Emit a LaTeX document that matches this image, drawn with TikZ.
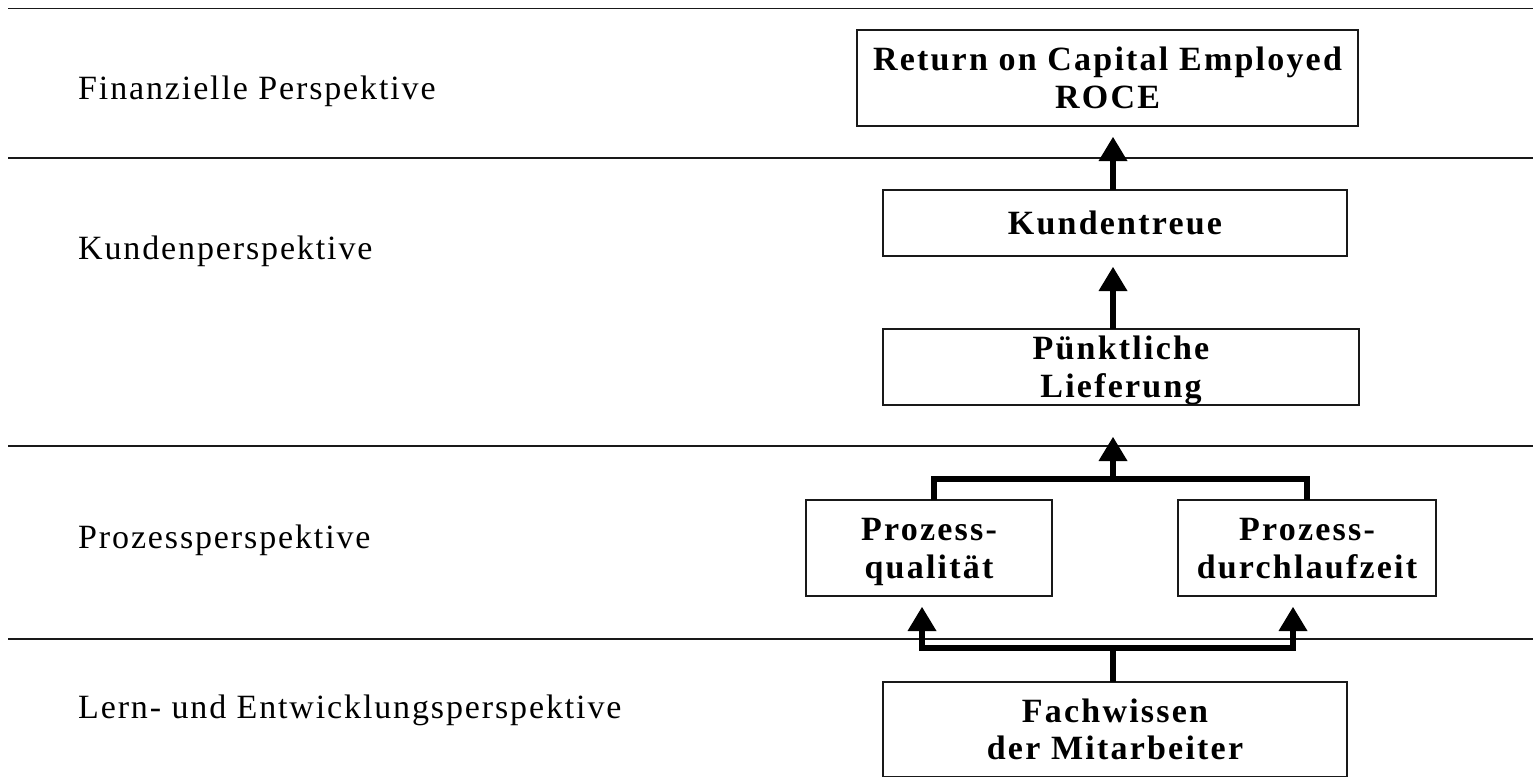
\documentclass[tikz,border=0pt]{standalone}
\usepackage{fontspec}
\setmainfont{Liberation Serif}[LetterSpace=5.5, BoldFeatures={LetterSpace=6.5}]
\usetikzlibrary{arrows.meta}

% one line of box text, measured by its capitals only
\newcommand\capln[1]{\smash{#1}\rule{0pt}{22.5pt}}

\tikzset{
  rule/.style={line width=1.6pt, draw=black!90},
  persp/.style={anchor=base west, inner sep=0pt, font=\fontsize{34}{38}\selectfont},
  kpi/.style={draw=black!90, line width=1.6pt, rectangle, inner sep=0pt, outer sep=0pt,
              align=center, font=\fontsize{34}{37.5}\selectfont\bfseries},
  bar/.style={line width=6.5pt, line join=miter, draw=black},
  conn/.style={bar, -{Triangle[width=29pt,length=24pt,line width=0pt]}},
}

\begin{document}
\begin{tikzpicture}[x=1pt, y=-1pt]
  \useasboundingbox (0,0) rectangle (1533,776);
  \clip (0,0) rectangle (1533,776);

  % perspective separators
  \foreach \yy in {8.5,158,446,639}
    \draw[rule] (8,\yy) -- (1540,\yy);

  % perspective titles
  \node[persp] (fin)  at (78,99)  {Finanzielle Perspektive};
  \node[persp] (kun)  at (78,259) {Kundenperspektive};
  \node[persp] (proz) at (78,548) {Prozessperspektive};
  \node[persp] (lern) at (78,718) {Lern- und Entwicklungsperspektive};

  % measures
  \node[kpi, minimum width=501pt, minimum height=96pt] (roce) at (1107.5,78)
    {\capln{Return on Capital Employed}\\\capln{ROCE}};
  \node[kpi, minimum width=464pt, minimum height=66pt] (kt) at (1115,223)
    {\capln{Kundentreue}};
  \node[kpi, minimum width=476pt, minimum height=76pt] (pl) at (1121,367)
    {\capln{Pünktliche}\\\capln{Lieferung}};
  \node[kpi, minimum width=246pt, minimum height=96pt] (pq) at (929,548)
    {\capln{Prozess-}\\\capln{qualität}};
  \node[kpi, minimum width=258pt, minimum height=96pt] (pd) at (1307,548)
    {\capln{Prozess-}\\\capln{durchlaufzeit}};
  \node[kpi, minimum width=464pt, minimum height=95pt] (fw) at (1115,729.5)
    {\capln{Fachwissen}\\\capln{der Mitarbeiter}};

  % connector guides
  \coordinate (sx) at (1113,0);
  \coordinate (lx) at (934,0);
  \coordinate (lb) at (922,0);
  \coordinate (rb) at (1293,0);
  \coordinate (jt) at (1113,479);
  \coordinate (jb) at (1113,648);

  % cause-and-effect chain
  \draw[conn, shorten >=11pt] (kt.north -| sx) -- (roce.south -| sx);
  \draw[conn, shorten >=11pt] (pl.north -| sx) -- (kt.south -| sx);
  \draw[bar] (pq.north -| lx) |- (jt) -| (pd.north);
  \draw[conn, shorten >=32pt] (jt) -- (pl.south -| sx);
  \draw[bar] (fw.north -| sx) -- (jb);
  \draw[conn, shorten >=11pt] (jb) -| (pq.south -| lb);
  \draw[conn, shorten >=11pt] (jb) -| (pd.south -| rb);
\end{tikzpicture}
\end{document}
